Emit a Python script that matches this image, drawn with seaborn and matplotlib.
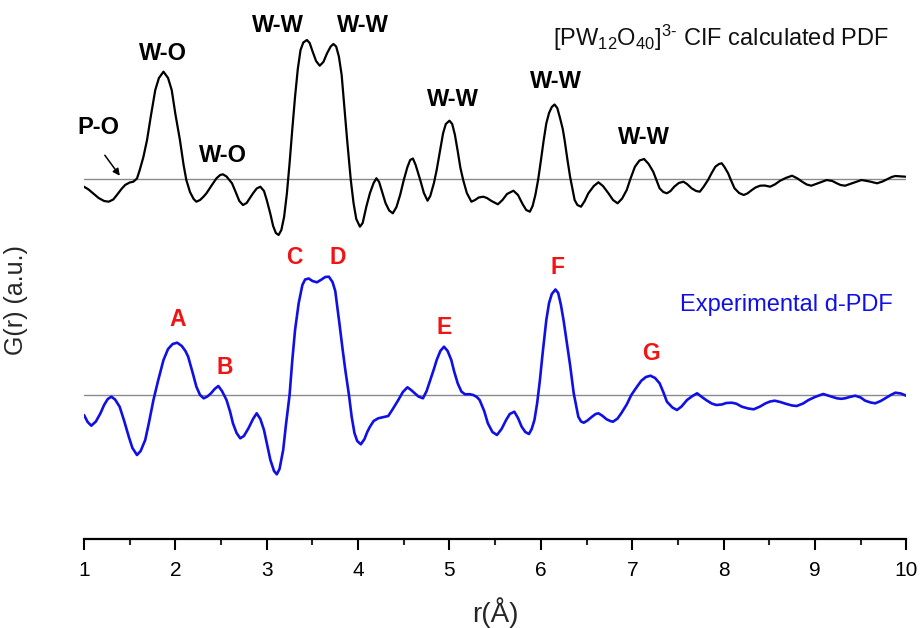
import numpy as np
import pandas as pd
import matplotlib
matplotlib.use("Agg")
import matplotlib.pyplot as plt
import seaborn as sns

# ---------------- data ----------------
calc_r = [1.00, 1.05, 1.10, 1.16, 1.22, 1.27, 1.32, 1.36, 1.41, 1.45, 1.50, 1.54, 1.58, 1.61,
          1.65, 1.69, 1.73, 1.78, 1.82, 1.87, 1.92, 1.96, 2.00, 2.05, 2.09, 2.12, 2.16, 2.20,
          2.23, 2.27, 2.31, 2.34, 2.40, 2.45, 2.49, 2.52, 2.56, 2.62, 2.66, 2.70, 2.74, 2.78,
          2.82, 2.85, 2.89, 2.93, 2.97, 3.00, 3.04, 3.07, 3.10, 3.13, 3.16, 3.19, 3.22, 3.25,
          3.28, 3.31, 3.34, 3.37, 3.40, 3.44, 3.47, 3.50, 3.54, 3.58, 3.62, 3.66, 3.70, 3.73,
          3.76, 3.79, 3.82, 3.84, 3.88, 3.92, 3.95, 3.98, 4.02, 4.05, 4.09, 4.13, 4.17, 4.20,
          4.23, 4.26, 4.30, 4.34, 4.38, 4.42, 4.46, 4.50, 4.54, 4.57, 4.60, 4.63, 4.66, 4.68,
          4.72, 4.76, 4.79, 4.83, 4.86, 4.89, 4.93, 4.96, 5.00, 5.03, 5.06, 5.09, 5.12, 5.15,
          5.19, 5.24, 5.28, 5.32, 5.37, 5.41, 5.46, 5.53, 5.58, 5.63, 5.70, 5.75, 5.80, 5.84,
          5.88, 5.91, 5.94, 5.97, 6.00, 6.03, 6.06, 6.09, 6.12, 6.15, 6.18, 6.21, 6.24, 6.26,
          6.29, 6.32, 6.37, 6.40, 6.44, 6.48, 6.52, 6.58, 6.63, 6.68, 6.74, 6.79, 6.84, 6.89,
          6.94, 6.98, 7.03, 7.08, 7.13, 7.18, 7.23, 7.30, 7.34, 7.38, 7.42, 7.46, 7.51, 7.56,
          7.60, 7.65, 7.70, 7.74, 7.78, 7.83, 7.87, 7.91, 7.95, 7.98, 8.01, 8.05, 8.08, 8.12,
          8.17, 8.22, 8.26, 8.31, 8.35, 8.40, 8.45, 8.51, 8.56, 8.62, 8.68, 8.75, 8.81, 8.86,
          8.91, 8.96, 9.04, 9.13, 9.19, 9.24, 9.28, 9.33, 9.40, 9.51, 9.60, 9.68, 9.74, 9.79,
          9.84, 9.88, 9.99]
calc_g = [-7.7, -10.5, -14.3, -19, -22, -22.7, -20.5, -16, -10, -6, -3.5, -2.7, 0.5, 9,
          22, 39, 62, 89, 101, 107.3, 101, 89, 65, 39, 14, -1, -13, -20,
          -22.7, -21, -17.5, -14.3, -6, 0.7, 4, 4.7, 2.5, -4.3, -13, -22, -26, -24,
          -18.5, -14.3, -9.5, -7.7, -12, -21, -35, -47, -54, -56, -51, -38, -15, 15.7,
          50, 82.3, 110, 129, 136.5, 139, 136, 128, 118, 113.3, 117, 125.7, 132.5, 135,
          132.5, 122.3, 104, 82.3, 39, -1, -24, -40, -47.7, -44, -27.7, -14, -4, 0.7,
          -3, -12, -24, -31.5, -34.3, -28, -16, -1, 12, 19, 20.5, 14, 5, -1,
          -14, -21.7, -17, -4, 9, 25, 45.7, 55, 58.3, 55, 44, 28, 11, -1,
          -14, -22.7, -21, -18.5, -17.7, -19, -22, -25.3, -21, -15, -11.7, -16, -25, -31,
          -32.7, -27, -16, -1, 18, 38, 55.7, 66, 72, 74.5, 71, 61, 50, 39,
          20, 2.3, -21, -26, -27.7, -22, -14.3, -7, -3.3, -7, -14.3, -21, -24.3, -19.5,
          -11, 0, 12.3, 18.5, 20, 15, 7.3, -9.3, -13, -14.3, -12, -7.7, -4, -2.7,
          -5, -9.3, -12, -12.7, -8, -1, 6, 12.3, 15, 15.7, 12, 5.7, -1, -9.3,
          -14, -16, -14.5, -11, -8.5, -6.7, -6.5, -7.7, -5.5, -1.7, 1, 3.3, 0.5, -2.7,
          -5.5, -6.7, -4, -1, -2, -4.3, -6, -6.7, -4.5, -1, -2.5, -4.3, -2.5, -0.3,
          2, 3, 2.3]

exp_r = [1.00, 1.04, 1.08, 1.13, 1.18, 1.22, 1.26, 1.30, 1.34, 1.39, 1.44, 1.49, 1.53, 1.58,
         1.62, 1.67, 1.71, 1.76, 1.81, 1.87, 1.92, 1.97, 2.02, 2.07, 2.11, 2.14, 2.19, 2.23,
         2.27, 2.31, 2.35, 2.39, 2.43, 2.47, 2.51, 2.56, 2.60, 2.63, 2.67, 2.71, 2.75, 2.80,
         2.85, 2.89, 2.93, 2.97, 3.01, 3.04, 3.08, 3.11, 3.14, 3.18, 3.21, 3.25, 3.28, 3.31,
         3.35, 3.39, 3.42, 3.46, 3.50, 3.55, 3.60, 3.64, 3.68, 3.72, 3.75, 3.77, 3.80, 3.83,
         3.86, 3.90, 3.93, 3.96, 3.99, 4.03, 4.07, 4.10, 4.13, 4.17, 4.22, 4.28, 4.33, 4.38,
         4.44, 4.49, 4.54, 4.58, 4.62, 4.66, 4.71, 4.75, 4.79, 4.83, 4.86, 4.90, 4.94, 4.98,
         5.02, 5.05, 5.09, 5.13, 5.17, 5.22, 5.26, 5.30, 5.33, 5.38, 5.42, 5.47, 5.52, 5.57,
         5.62, 5.66, 5.71, 5.75, 5.79, 5.83, 5.87, 5.90, 5.93, 5.96, 5.99, 6.02, 6.06, 6.09,
         6.12, 6.16, 6.19, 6.22, 6.25, 6.28, 6.32, 6.36, 6.41, 6.44, 6.47, 6.51, 6.56, 6.60,
         6.63, 6.67, 6.72, 6.76, 6.79, 6.84, 6.88, 6.94, 6.99, 7.05, 7.10, 7.15, 7.20, 7.25,
         7.30, 7.34, 7.38, 7.44, 7.49, 7.54, 7.60, 7.66, 7.71, 7.77, 7.82, 7.87, 7.92, 7.98,
         8.03, 8.09, 8.14, 8.20, 8.27, 8.33, 8.40, 8.46, 8.51, 8.56, 8.62, 8.69, 8.75, 8.80,
         8.87, 8.93, 9.00, 9.09, 9.16, 9.24, 9.29, 9.33, 9.38, 9.44, 9.50, 9.55, 9.61, 9.66,
         9.72, 9.77, 9.83, 9.88, 9.94, 10.00]
exp_g = [-20, -27, -30.7, -26.5, -18.3, -10, -4, -1.7, -4.5, -11.7, -26, -41.7, -53, -60,
         -56, -45, -28, -5, 14, 35, 46, 51, 52.3, 49, 44, 38.3, 22, 8.3,
         0, -3.3, -1.5, 1.7, 6, 9, 4, -5, -17, -28.3, -38, -43.3, -41, -33.3,
         -24, -18.3, -24, -35, -52, -65, -76, -79.3, -74, -55, -30, 0, 35, 65,
         92, 110, 115.5, 116.5, 114, 112.7, 115.5, 118, 118.3, 113, 104, 90, 68.3, 46,
         25, 0, -22, -38, -46, -49.3, -44, -37, -31.7, -26, -23.3, -22, -21, -14,
         -5, 3, 7.7, 5, 1.7, -1.5, -3.3, 4, 15, 26, 35, 44, 48.3, 44,
         35, 24, 11.7, 3.5, 0.7, 0.8, 0, -2, -5, -16, -28.3, -37, -40, -34,
         -25, -19, -16.7, -23, -31.7, -37, -39, -34, -25, -8, 15, 42, 75, 92,
         101, 105.5, 102, 90, 74, 55, 30, 1.7, -21.7, -26.5, -27.7, -25.5, -21.7, -19,
         -18.3, -20.5, -24.3, -26, -26.7, -23.5, -18.3, -9.5, 0, 8, 14.3, 18, 19.3, 17,
         11.7, 3, -6.7, -12.5, -15, -11.5, -5, -1, 1.7, -2.5, -5.7, -8.5, -10, -9.5,
         -8, -7.7, -8.7, -11.7, -13.5, -14.3, -11.5, -8.3, -6.5, -5.7, -7, -9, -10.5, -11,
         -8.5, -5, -2, 1, -1, -3.3, -3.8, -3.3, -2, -0.7, -2.5, -5.7, -7.5, -8.3,
         -6, -3.3, 0, 2.3, 1.5, -0.7]

x_ticks = [1, 2, 3, 4, 5, 6, 7, 8, 9, 10]
bond_labels = ["P-O", "W-O", "W-O", "W-W", "W-W", "W-W", "W-W", "W-W"]
peak_letters = ["A", "B", "C", "D", "E", "F", "G"]

# ---------------- style ----------------
sns.set_style("white")
plt.rcParams['font.family'] = ['Liberation Sans', 'DejaVu Sans']
plt.rcParams['mathtext.fontset'] = 'custom'
plt.rcParams['mathtext.rm'] = 'Liberation Sans'
plt.rcParams['mathtext.it'] = 'Liberation Sans:italic'

CALC_OFFSET = 216
BLUE = "#1010e6"
RED = "#f01414"

fig = plt.figure(figsize=(9.22, 6.28), dpi=100)
ax = fig.add_axes([84 / 922, (628 - 539) / 628, (906.3 - 84) / 922, (539 - 20) / 628])

df_calc = pd.DataFrame({"r": calc_r, "G": np.array(calc_g) + CALC_OFFSET})
df_exp = pd.DataFrame({"r": exp_r, "G": exp_g})

ax.axhline(CALC_OFFSET, color="#8a8a8a", lw=1.0, zorder=1)
ax.axhline(0, color="#8a8a8a", lw=1.0, zorder=1)

sns.lineplot(data=df_calc, x="r", y="G", color="black", lw=1.6, ax=ax,
             estimator=None, sort=False, zorder=3)
sns.lineplot(data=df_exp, x="r", y="G", color=BLUE, lw=1.9, ax=ax,
             estimator=None, sort=False, zorder=3)
for line in ax.lines:
    line.set_solid_joinstyle("round")

ax.set_xlim(1, 10)
ax.set_ylim(-144, 375)
ax.set_yticks([])
ax.set_xticks(x_ticks)
ax.set_xticks(np.arange(1.5, 10, 1.0), minor=True)
ax.tick_params(axis="x", which="major", direction="out", length=8, width=1.5,
               labelsize=15, pad=8, bottom=True, colors="black")
ax.tick_params(axis="x", which="minor", direction="out", length=4, width=1.5, bottom=True)
for s in ["left", "top", "right"]:
    ax.spines[s].set_visible(False)
ax.spines["bottom"].set_linewidth(1.6)
ax.spines["bottom"].set_color("black")

ax.set_xlabel("r(Å)", fontsize=20)
ax.xaxis.set_label_coords(0.5, -0.112)
ax.set_ylabel("G(r) (a.u.)", fontsize=18)
ax.yaxis.set_label_coords(-0.068, 0.46)

# bond annotations on calculated PDF
bond_pos = [(1.153, 268), (1.865, 342), (2.518, 240), (3.123, 370), (4.05, 370),
            (5.04, 295), (6.17, 313), (7.13, 257)]
for lab, (x, y) in zip(bond_labels, bond_pos):
    ax.text(x, y, lab, fontsize=17, fontweight="bold", ha="center", va="center", color="black")
ax.annotate("", xy=(1.41, 217), xytext=(1.21, 242),
            arrowprops=dict(arrowstyle="-|>", color="black", lw=1.1, mutation_scale=10))

# peak letters on experimental d-PDF
letter_pos = [(2.025, 75), (2.543, 27), (3.30, 138), (3.777, 138), (4.94, 68), (6.184, 127), (7.20, 42)]
for lab, (x, y) in zip(peak_letters, letter_pos):
    ax.text(x, y, lab, fontsize=16.5, fontweight="bold", ha="center", va="center", color=RED)

ax.text(7.97, 357, r"[PW$_{12}$O$_{40}$]$^{3\text{-}}$ CIF calculated PDF", fontsize=17,
        ha="center", va="center", color="#111111")
ax.text(8.69, 90, "Experimental d-PDF", fontsize=17, ha="center", va="center", color=BLUE)

fig.savefig("out.png", dpi=100)
